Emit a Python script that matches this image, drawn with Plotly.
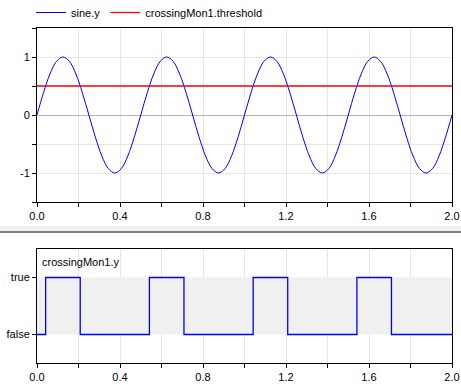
import plotly.graph_objects as go

# ---- data ----
t_sine = [i / 32 for i in range(65)]
sine_y = [0.0, 0.383, 0.707, 0.924, 1.0, 0.924, 0.707, 0.383,
          0.0, -0.383, -0.707, -0.924, -1.0, -0.924, -0.707, -0.383,
          0.0, 0.383, 0.707, 0.924, 1.0, 0.924, 0.707, 0.383,
          0.0, -0.383, -0.707, -0.924, -1.0, -0.924, -0.707, -0.383,
          0.0, 0.383, 0.707, 0.924, 1.0, 0.924, 0.707, 0.383,
          0.0, -0.383, -0.707, -0.924, -1.0, -0.924, -0.707, -0.383,
          0.0, 0.383, 0.707, 0.924, 1.0, 0.924, 0.707, 0.383,
          0.0, -0.383, -0.707, -0.924, -1.0, -0.924, -0.707, -0.383,
          0.0]
t_thr = [0.0, 2.0]
threshold = [0.5, 0.5]
t_cross = [0.0, 0.0417, 0.2083, 0.5417, 0.7083, 1.0417, 1.2083, 1.5417, 1.7083, 2.0]
cross_y = [0, 1, 0, 1, 0, 1, 0, 1, 0, 0]

x_ticks = [0.0, 0.2, 0.4, 0.6, 0.8, 1.0, 1.2, 1.4, 1.6, 1.8, 2.0]
x_labels = ["0.0", "", "0.4", "", "0.8", "", "1.2", "", "1.6", "", "2.0"]
y1_ticks = [-1.5, -1.0, -0.5, 0.0, 0.5, 1.0, 1.5]
y1_labels = ["", "-1", "", "0", "", "1", ""]
y2_ticks = [0, 1]
y2_labels = ["false", "true"]

W, H = 461, 385
FONT = "Liberation Sans, Arial, sans-serif"

fig = go.Figure()
fig.add_trace(go.Scatter(x=t_sine, y=sine_y, mode="lines", name="sine.y",
                         line=dict(color="#0000ff", width=1, shape="spline"),
                         xaxis="x", yaxis="y"))
fig.add_trace(go.Scatter(x=t_thr, y=threshold, mode="lines", name="crossingMon1.threshold",
                         line=dict(color="#ff0000", width=1.3),
                         xaxis="x", yaxis="y"))
fig.add_trace(go.Scatter(x=t_cross, y=cross_y, mode="lines", name="crossingMon1.y",
                         line=dict(color="#0000ff", width=1.3, shape="hv"),
                         xaxis="x2", yaxis="y2", showlegend=False))

xdom = [37 / W, 452 / W]
y1dom = [1 - 202 / H, 1 - 28 / H]
y2dom = [1 - 363 / H, 1 - 249 / H]

common_x = dict(range=[0, 2], tickmode="array", tickvals=x_ticks, ticktext=x_labels,
                showgrid=True, gridcolor="#e6e6e6", gridwidth=1,
                showline=True, linecolor="black", linewidth=1, mirror=True,
                ticks="outside", ticklen=4, tickcolor="black", tickwidth=1,
                zeroline=False, domain=xdom, automargin=False,
                tickfont=dict(family=FONT, size=11, color="#000000"))

fig.update_layout(
    width=W, height=H,
    margin=dict(l=0, r=0, t=0, b=0, autoexpand=False),
    paper_bgcolor="white", plot_bgcolor="white",
    font=dict(family=FONT, size=11, color="black"),
    showlegend=True,
    legend=dict(orientation="h", x=31 / W, xanchor="left", y=1 + 2 / H, yanchor="top",
                font=dict(family=FONT, size=11, color="black"),
                bgcolor="rgba(0,0,0,0)", itemwidth=30, tracegroupgap=0),
    xaxis=dict(common_x, anchor="y"),
    yaxis=dict(range=[-1.5, 1.5], domain=y1dom, anchor="x", tickmode="array",
               tickvals=y1_ticks, ticktext=y1_labels, automargin=False,
               showgrid=True, gridcolor="#e6e6e6",
               zeroline=True, zerolinecolor="#b4b4b4", zerolinewidth=1,
               showline=True, linecolor="black", linewidth=1, mirror=True,
               ticks="outside", ticklen=4, tickcolor="black",
               tickfont=dict(family=FONT, size=11, color="#000000")),
    xaxis2=dict(common_x, anchor="y2"),
    yaxis2=dict(range=[-0.5, 1.5], domain=y2dom, anchor="x2", tickmode="array",
                tickvals=y2_ticks, ticktext=y2_labels, automargin=False,
                showgrid=False, zeroline=False,
                showline=True, linecolor="black", linewidth=1, mirror=True,
                ticks="outside", ticklen=4, tickcolor="black",
                tickfont=dict(family=FONT, size=11, color="#000000")),
)

# grey band between false and true
fig.add_shape(type="rect", xref="x2", yref="y2", x0=0, x1=2, y0=0, y1=1,
              fillcolor="#f0f0f0", line=dict(width=0), layer="between")
# separator between panels
fig.add_shape(type="rect", xref="paper", yref="paper", x0=0, x1=1,
              y0=1 - 231 / H, y1=1 - 226 / H, fillcolor="#f0f0f0", line=dict(width=0))
fig.add_shape(type="rect", xref="paper", yref="paper", x0=0, x1=1,
              y0=1 - 233 / H, y1=1 - 231 / H, fillcolor="#808080", line=dict(width=0))

fig.add_annotation(text="crossingMon1.y", xref="paper", yref="paper",
                   x=40 / W, y=1 - 262 / H, xanchor="left", yanchor="middle",
                   showarrow=False, font=dict(family=FONT, size=11, color="black"))

fig.write_html("out.html", config={"displayModeBar": False},
               post_script="document.body.style.margin='0px';document.body.style.overflow='hidden';")
